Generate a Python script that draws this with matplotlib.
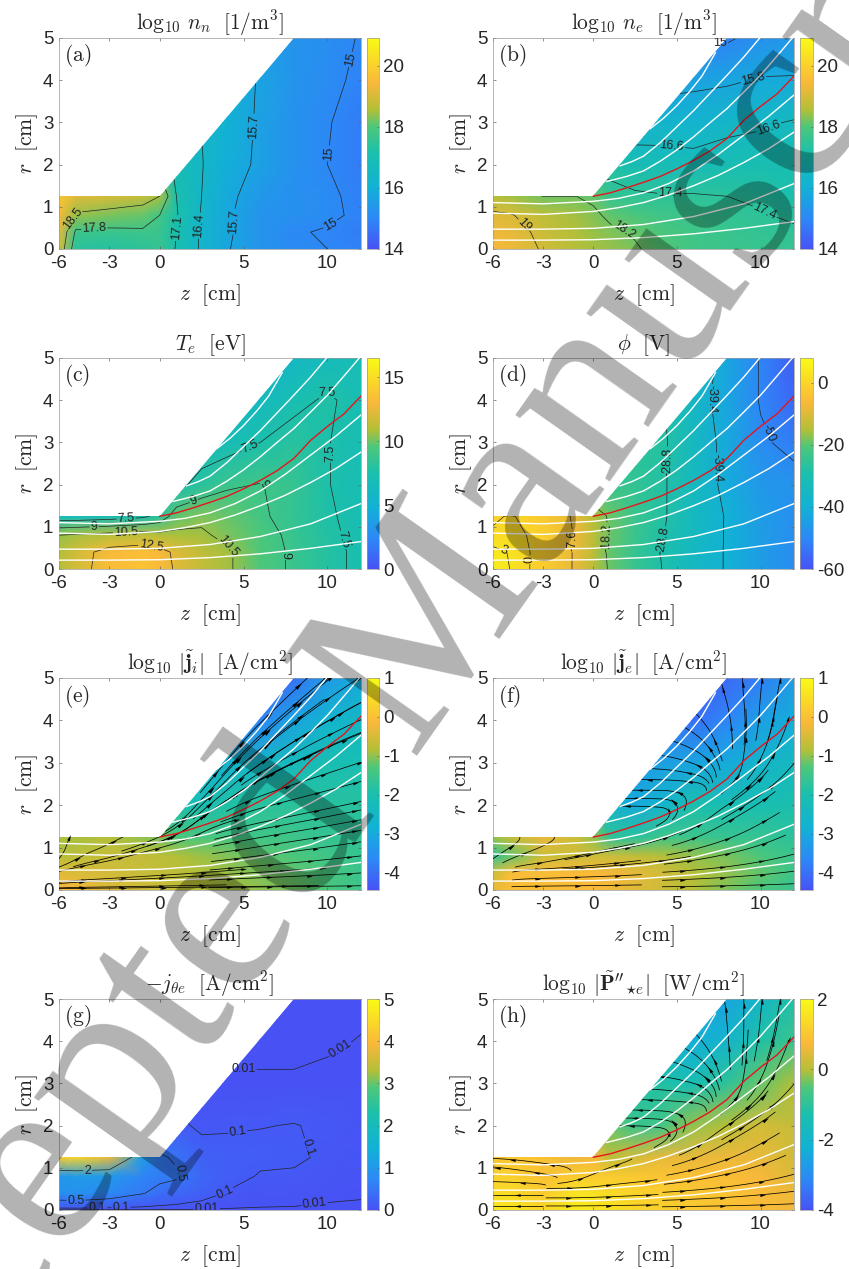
import numpy as np
import matplotlib
matplotlib.use('Agg')
from matplotlib import pyplot as plt
from matplotlib.colors import LinearSegmentedColormap
from matplotlib.patches import Polygon, FancyArrowPatch
from matplotlib.path import Path

plt.rcParams['font.family'] = ['Liberation Sans', 'DejaVu Sans']
plt.rcParams['mathtext.fontset'] = 'cm'
plt.rcParams['axes.unicode_minus'] = False

W, H = 849, 1269

#========================================
#           Data
#========================================
z_grid = [-6, -5, -3, -1, 0, 1, 2.5, 4, 6, 8, 10, 12]
r_grid = [0, 0.4, 0.8, 1.25, 2, 3, 4, 5]

nn_vals = [
    [19.0, 17.4, 17.3, 17.45, 17.6, 17.05, 16.3, 15.75, 15.3, 15.1, 15.0, 14.9],
    [19.2, 17.7, 17.65, 17.7, 17.65, 17.1, 16.3, 15.8, 15.3, 15.05, 14.95, 14.8],
    [19.4, 18.4, 18.25, 18.15, 17.8, 17.15, 16.35, 15.8, 15.3, 15.2, 15.1, 14.9],
    [19.8, 19.1, 19.0, 18.8, 18.5, 17.1, 16.4, 15.85, 15.4, 15.2, 15.1, 14.85],
    [17.5, 17.5, 17.5, 17.5, 17.5, 16.95, 16.43, 15.95, 15.6, 15.25, 15.0, 14.8],
    [16.4, 16.4, 16.4, 16.4, 16.4, 16.4, 16.4, 16.1, 15.6, 15.25, 15.03, 14.8],
    [16.0, 16.0, 16.0, 16.0, 16.0, 16.0, 16.0, 16.0, 15.65, 15.3, 15.12, 14.9],
    [15.6, 15.6, 15.6, 15.6, 15.6, 15.6, 15.6, 15.6, 15.6, 15.3, 15.15, 14.97],
]
ne_vals = [
    [19.4, 19.3, 18.95, 18.6, 18.5, 18.4, 18.25, 18.05, 17.8, 17.7, 17.65, 17.6],
    [19.3, 19.25, 18.85, 18.55, 18.4, 18.3, 18.15, 17.95, 17.75, 17.65, 17.55, 17.5],
    [19.1, 19.05, 18.7, 18.45, 18.3, 18.1, 17.95, 17.8, 17.65, 17.55, 17.45, 17.3],
    [18.6, 18.5, 18.2, 18.2, 18.1, 17.6, 17.5, 17.45, 17.45, 17.4, 17.3, 17.1],
    [17.2, 17.2, 17.2, 17.2, 17.2, 17.2, 16.95, 16.85, 16.85, 16.95, 17.0, 17.0],
    [16.2, 16.2, 16.2, 16.2, 16.2, 16.2, 16.2, 16.3, 16.2, 16.4, 16.5, 16.65],
    [15.5, 15.5, 15.5, 15.5, 15.5, 15.5, 15.5, 15.5, 15.65, 15.7, 15.85, 15.85],
    [14.9, 14.9, 14.9, 14.9, 14.9, 14.9, 14.9, 14.9, 14.9, 14.9, 15.25, 15.4],
]
te_vals = [
    [11.0, 11.8, 13.3, 13.6, 13.2, 12.3, 11.4, 10.7, 9.6, 8.8, 7.9, 7.2],
    [10.9, 11.8, 13.1, 13.4, 13.0, 12.2, 11.3, 10.7, 9.6, 8.8, 7.9, 7.2],
    [10.5, 10.7, 11.0, 11.3, 11.0, 10.8, 10.7, 10.2, 9.5, 8.7, 7.8, 7.1],
    [6.6, 6.6, 6.8, 7.2, 8.0, 9.8, 10.2, 9.9, 9.2, 8.5, 7.7, 7.0],
    [7.0, 7.0, 7.0, 7.0, 7.0, 7.0, 8.1, 8.8, 9.05, 8.6, 7.55, 7.0],
    [6.5, 6.5, 6.5, 6.5, 6.5, 6.5, 6.5, 6.8, 7.5, 8.1, 7.55, 7.0],
    [6.0, 6.0, 6.0, 6.0, 6.0, 6.0, 6.0, 6.0, 6.3, 7.1, 7.7, 7.0],
    [5.5, 5.5, 5.5, 5.5, 5.5, 5.5, 5.5, 5.5, 5.5, 6.0, 6.6, 6.9],
]
phi_vals = [
    [5, 3, -2, -8.5, -14, -19, -24, -28.5, -35, -40, -45, -49],
    [4, 2.8, -1.8, -8.5, -14, -19.5, -24.5, -28.8, -35, -40, -45, -49],
    [1, 1.5, -1.5, -8.3, -14, -19, -24, -28, -34.5, -40, -45, -48.5],
    [-1, 0.5, -2.5, -8.8, -15, -19, -24, -27.5, -34, -40, -45, -48.5],
    [-24, -24, -24, -24, -24, -24, -25, -27.5, -34, -41.5, -46, -47.5],
    [-27, -27, -27, -27, -27, -27, -27, -27.3, -34, -42, -49, -52],
    [-28, -28, -28, -28, -28, -28, -28, -28, -35.5, -43, -50.5, -56],
    [-33, -33, -33, -33, -33, -33, -33, -33, -33, -43, -50.5, -58],
]
ji_vals = [
    [-0.1, -0.2, -0.45, -0.55, -0.6, -0.7, -0.8, -0.9, -1.0, -1.15, -1.3, -1.5],
    [-0.4, -0.45, -0.55, -0.65, -0.7, -0.75, -0.85, -0.95, -1.1, -1.2, -1.35, -1.55],
    [-0.8, -0.75, -0.65, -0.7, -0.75, -0.85, -0.95, -1.05, -1.2, -1.3, -1.45, -1.6],
    [-0.9, -0.9, -0.85, -1.0, -1.1, -1.3, -1.35, -1.4, -1.45, -1.5, -1.6, -1.7],
    [-2.0, -2.0, -2.0, -2.0, -2.0, -2.0, -2.1, -1.9, -1.75, -1.75, -1.8, -1.8],
    [-2.8, -2.8, -2.8, -2.8, -2.8, -2.8, -2.8, -2.7, -2.5, -2.3, -2.1, -2.1],
    [-3.8, -3.8, -3.8, -3.8, -3.8, -3.8, -3.8, -3.8, -3.7, -3.1, -2.7, -2.5],
    [-4.2, -4.2, -4.2, -4.2, -4.2, -4.2, -4.2, -4.2, -4.2, -4.0, -3.3, -3.0],
]
je_vals = [
    [-0.3, -0.05, -0.02, -0.1, -0.15, -0.25, -0.4, -0.6, -0.85, -1.1, -1.3, -1.6],
    [-0.6, -0.05, -0.05, -0.1, -0.1, -0.2, -0.35, -0.55, -0.8, -1.0, -1.2, -1.5],
    [-1.7, -1.2, -0.6, -0.6, -0.6, -0.6, -0.7, -0.8, -1.0, -1.1, -1.3, -1.55],
    [-1.0, -0.7, -0.3, -0.6, -1.0, -1.7, -1.8, -1.5, -1.5, -1.6, -1.6, -1.75],
    [-2.6, -2.6, -2.6, -2.6, -2.6, -2.6, -3.0, -2.7, -2.0, -2.1, -2.1, -2.0],
    [-3.3, -3.3, -3.3, -3.3, -3.3, -3.3, -3.3, -3.2, -3.1, -3.0, -2.6, -2.4],
    [-3.9, -3.9, -3.9, -3.9, -3.9, -3.9, -3.9, -3.9, -4.0, -3.7, -3.2, -2.9],
    [-4.3, -4.3, -4.3, -4.3, -4.3, -4.3, -4.3, -4.3, -4.3, -4.1, -3.8, -3.3],
]
jth_vals = [
    [.002, .002, .002, .002, .002, .002, .002, .002, .002, .002, .002, .002],
    [.85, .9, .75, .52, .38, .3, .18, .09, .05, .04, .02, .015],
    [1.0, 1.05, 1.05, .7, .6, .55, .28, .17, .085, .08, .05, .03],
    [4.2, 4.4, 3.8, 1.1, .55, .45, .2, .16, .14, .125, .075, .05],
    [.15, .15, .15, .15, .15, .15, .06, .08, .095, .105, .08, .05],
    [.012, .012, .012, .012, .012, .012, .012, .012, .012, .0115, .015, .018],
    [.006, .006, .006, .006, .006, .006, .006, .006, .006, .007, .007, .011],
    [.003, .003, .003, .003, .003, .003, .003, .003, .003, .003, .004, .005],
]
pe_vals = [
    [1.6, 1.6, 1.3, 1.7, 1.6, 1.5, 1.3, 1.2, 1.05, .9, .8, .65],
    [1.4, 1.4, 1.1, 1.6, 1.5, 1.4, 1.25, 1.15, 1.0, .95, .8, .6],
    [1.2, 1.2, .9, 1.1, 1.1, 1.1, 1.05, .95, .9, .85, .7, .45],
    [1.0, 1.05, .9, .6, .7, .1, .3, .5, .55, .6, .55, .3],
    [-.4, -.4, -.4, -.4, -.4, -.4, -.8, -.7, -.2, 0, .3, .15],
    [-1.2, -1.2, -1.2, -1.2, -1.2, -1.2, -1.2, -1.2, -1.4, -1.0, -.4, -.05],
    [-2.1, -2.1, -2.1, -2.1, -2.1, -2.1, -2.1, -2.1, -2.3, -2.0, -1.2, -.8],
    [-2.7, -2.7, -2.7, -2.7, -2.7, -2.7, -2.7, -2.7, -2.7, -2.5, -1.9, -1.2],
]

# magnetic field lines (white) and the channel-edge line (red)
field_lines = [
    ([-6, -3, 0, 3, 6, 9, 12], [.21, .21, .22, .27, .36, .49, .65]),
    ([-6, -3, 0, 3, 6, 9, 12], [.47, .47, .49, .58, .77, 1.07, 1.55]),
    ([-6, -3, 0, 1.5, 3, 4.5, 6, 7.5, 9, 10.5, 12], [.85, .82, .89, .98, 1.1, 1.28, 1.5, 1.75, 2.05, 2.38, 2.77]),
    ([-6, -3, 0, 1.5, 3, 4.5, 6, 7.5, 9, 10.5, 12], [1.1, 1.07, 1.13, 1.2, 1.33, 1.55, 1.85, 2.25, 2.7, 3.15, 3.65]),
    ([.8, 2, 3, 4, 5, 6, 7, 8, 9, 10, 11, 11.9], [1.6, 1.72, 1.85, 2.08, 2.35, 2.66, 3.0, 3.33, 3.72, 4.12, 4.58, 5]),
    ([1.6, 2.3, 3, 4, 5, 6, 7, 8, 9, 9.95], [1.97, 2.07, 2.2, 2.52, 2.9, 3.28, 3.7, 4.12, 4.55, 5]),
    ([3.4, 4.2, 5, 5.8, 6.5, 7.3], [2.85, 3.1, 3.4, 3.75, 4.1, 4.65]),
]
red_z = [0, 1, 2, 3, 4, 5, 6, 7, 8, 9, 10, 11, 12]
red_r = [1.25, 1.33, 1.45, 1.58, 1.72, 1.9, 2.1, 2.33, 2.62, 3.05, 3.38, 3.68, 4.1]

# stream directions on screen, degrees (0 right, 90 up, 180 left)
dir_z = [-6, -4, -2, 0, 2, 4, 6, 8, 10, 12]
dir_r = [0, .5, 1, 1.5, 2, 2.5, 3, 3.5, 4, 4.5, 5]

ji_dir = [
    [0, 0, 0, 0, 0, 0, 0, 0, 0, 0],
    [15, 6, 6, 5, 5, 5, 4, 4, 4, 4],
    [80, 25, 20, 15, 12, 9, 9, 8, 8, 8],
    [85, 40, 35, 35, 35, 15, 11, 10, 10, 10],
    [85, 60, 50, 50, 50, 30, 16, 13, 12, 12],
    [85, 60, 55, 55, 55, 45, 25, 18, 16, 15],
    [85, 60, 55, 55, 55, 50, 35, 25, 20, 18],
    [85, 60, 60, 60, 60, 55, 42, 32, 25, 20],
    [85, 60, 60, 60, 60, 58, 45, 38, 30, 25],
    [85, 60, 60, 60, 60, 60, 48, 42, 35, 28],
    [85, 60, 60, 60, 60, 60, 50, 45, 40, 32],
]
je_dir = [
    [0, 0, 0, 0, 0, 0, 0, 0, 0, 0],
    [30, 4, 3, 3, 4, 4, 5, 6, 7, 8],
    [40, 25, 20, 15, 10, 12, 15, 15, 17, 18],
    [180, 180, 180, 180, 180, 25, 30, 28, 28, 28],
    [180, 180, 180, 180, 180, 178, 60, 32, 32, 35],
    [180, 180, 180, 180, 180, 180, 175, 45, 40, 40],
    [180, 180, 180, 180, 180, 175, 160, 100, 60, 50],
    [180, 180, 180, 180, 180, 170, 150, 95, 75, 60],
    [180, 180, 180, 180, 180, 170, 140, 100, 85, 70],
    [180, 180, 180, 180, 180, 170, 130, 105, 85, 75],
    [180, 180, 180, 180, 180, 170, 130, 100, 85, 75],
]
pe_dir = [
    [180, 180, 0, 0, 0, 0, 0, 0, 0, 0],
    [180, 180, 0, 3, 4, 4, 5, 6, 7, 8],
    [175, 170, 170, 30, 10, 12, 15, 15, 17, 18],
    [180, 180, 180, 180, 175, 25, 30, 28, 28, 28],
    [180, 180, 180, 180, 180, 175, 60, 32, 32, 35],
    [180, 180, 180, 180, 180, 178, 175, 45, 40, 40],
    [180, 180, 180, 180, 180, 175, 165, 95, 60, 50],
    [180, 180, 180, 180, 180, 170, 150, 95, 75, 60],
    [180, 180, 180, 180, 180, 170, 140, 95, 80, 70],
    [180, 180, 180, 180, 180, 170, 130, 95, 85, 75],
    [180, 180, 180, 180, 180, 170, 130, 95, 85, 75],
]

# where the streamlines are seeded
ji_seeds = [(11.9, .1), (11.9, .4), (11.9, .8), (11.9, 1.13), (11.9, 1.4), (11.9, 1.65), (11.9, 1.88), (11.9, 2.08),
            (11.9, 2.55), (11.9, 3.0), (11.9, 3.7), (11.9, 4.0), (11.9, 4.4), (11.5, 4.9), (9, 4.7), (7.2, 4.4),
            (2.5, 1.7), (-5, .06), (-4, .25), (-3.5, .65), (-3.5, 1.0), (-5.6, 1.0), (0.5, .06), (1, .3),
            (4, 2.6), (5.5, 3.4), (8, 3.5), (6, 2.6)]
je_seeds = [(8, .1), (8, .3), (8, .55), (8, .85), (8, 1.2), (8, 1.6), (8, 2.0), (10.5, 2.4), (10.5, 3.0), (10.5, 3.6),
            (-1, .1), (-1, .3), (-1, .55), (-1, .8), (2, .6), (2, 1.0),
            (4, 1.95), (4, 2.15), (4, 2.35), (4, 2.6), (4, 2.85), (5, 3.1), (5.5, 3.4), (6, 3.7), (6.5, 4.0),
            (8, 4.4), (9, 4.5), (10, 4.6), (11, 4.6), (9, 3.2), (-4.5, 1.15), (-2.5, 1.15)]
pe_seeds = [(8, .1), (8, .3), (8, .55), (8, .85), (8, 1.2), (8, 1.6), (8, 2.0), (10.5, 2.4), (10.5, 3.0), (10.5, 3.6),
            (-4.5, .1), (-4.5, .35), (-4.5, .65), (-4.5, .95), (-4.5, 1.18), (0, .1), (0, .3), (0, .55), (0, .85),
            (4, 1.95), (4, 2.15), (4, 2.35), (4, 2.6), (4, 2.85), (5, 3.1), (5.5, 3.4), (6, 3.7), (6.5, 4.0),
            (8, 4.4), (9, 4.5), (10, 4.6), (11, 4.6), (9, 3.2)]

titles = [r'$\log_{10}\,n_n\ \ [1/\mathrm{m}^3]$', r'$\log_{10}\,n_e\ \ [1/\mathrm{m}^3]$',
          r'$T_e\ \ [\mathrm{eV}]$', r'$\phi\ \ [\mathrm{V}]$',
          r'$\log_{10}\,|\tilde{\mathbf{j}}_i|\ \ [\mathrm{A}/\mathrm{cm}^2]$',
          r'$\log_{10}\,|\tilde{\mathbf{j}}_e|\ \ [\mathrm{A}/\mathrm{cm}^2]$',
          r"$-j_{\theta e}\ \ [\mathrm{A}/\mathrm{cm}^2]$",
          r"$\log_{10}\,|\tilde{\mathbf{P}}''_{\star e}|\ \ [\mathrm{W}/\mathrm{cm}^2]$"]
letters = ['a', 'b', 'c', 'd', 'e', 'f', 'g', 'h']
fields = [nn_vals, ne_vals, te_vals, phi_vals, ji_vals, je_vals, jth_vals, pe_vals]
ranges = [(14, 20.9), (14, 20.9), (0, 16.5), (-60, 8), (-4.45, 1), (-4.45, 1), (0, 5), (-4, 2)]
cticks = [[14, 16, 18, 20], [14, 16, 18, 20], [0, 5, 10, 15], [-60, -40, -20, 0],
          [-4, -3, -2, -1, 0, 1], [-4, -3, -2, -1, 0, 1], [0, 1, 2, 3, 4, 5], [-4, -2, 0, 2]]

contour_levels = {
    0: [15, 15.7, 16.4, 17.1, 17.8, 18.5],
    1: [15, 15.8, 16.6, 17.4, 18.2, 19],
    2: [7.5, 9, 10.5, 12.5],
    3: [-50, -39.4, -28.8, -18.2, -7.6, 0, 3],
    6: [0.01, 0.1, 0.5, 2],
}
label_spots = {
    0: [(11.3, 4.5), (9.94, 2.27), (10.4, .45), (5.4, 2.9), (4.5, .65), (2.4, .55), (1.0, .5), (-3.9, .5), (-5.3, .75)],
    1: [(7.6, 4.6), (9.6, 4.0), (4.7, 2.45), (10.5, 2.87), (4.6, 1.5), (10.65, 1.17), (2, .6), (-4.2, .55)],
    2: [(9.7, 4.33), (5.6, 2.67), (-2, 1.2), (10.2, 2.75), (11, .7), (-3.9, .95), (2.1, 1.54), (6.65, 2.13),
        (7.45, .32), (-2, .87), (4.1, .54), (-.5, .54)],
    3: [(7.07, 2.4), (6.5, 4.05), (4.3, 2.55), (3.8, .7), (.8, .75), (-1.2, .67), (10.35, 3.2), (-3.75, .22), (-5.5, .3)],
    6: [(5, 2.95), (10.85, 3.75), (9.25, .09), (2.8, .03), (-3.7, .03), (4.7, 1.7), (9.35, 1.55), (4, .35),
        (-2.3, .05), (-5, .2), (1, .85), (-4.3, .97)],
}
stream_panels = {4: (ji_dir, ji_seeds, 1.0), 5: (je_dir, je_seeds, .45), 7: (pe_dir, pe_seeds, .45)}

wall_z = [-6, 12, 12, 8, 0, -6]
wall_r = [0, 0, 5, 5, 1.25, 1.25]

# parula, without its darkest start and stretched to match the colorbars
parula = LinearSegmentedColormap.from_list('parula', [
    (0.00, (.2810, .3228, .9579)), (0.14, (.1786, .5289, .9682)), (0.29, (.0689, .6948, .8394)),
    (0.45, (.1000, .7500, .6800)), (0.58, (.3000, .7800, .4800)), (0.66, (.7000, .7500, .2200)),
    (0.79, (.9800, .7200, .2300)), (1.00, (.9769, .9839, .0805))])


def px_axes(fig, x0, y0, x1, y1):
    # rectangle given in picture pixels, y going down
    return fig.add_axes([x0 / W, 1 - y1 / H, (x1 - x0) / W, (y1 - y0) / H])


def add_streams(ax, dirs, seeds, reach, clip):
    a = np.radians(np.array(dirs, dtype=float))
    # data units per screen pixel are not the same on both axes
    u = np.cos(a) / 16.8
    v = np.sin(a) / 42.2
    st = ax.streamplot(np.array(dir_z, dtype=float), np.array(dir_r, dtype=float), u, v,
                       start_points=np.array(seeds), color='k', linewidth=0.55, arrowstyle='-',
                       broken_streamlines=False, maxlength=reach, density=2, zorder=3)
    st.lines.set_clip_path(clip)
    # streamplot puts one arrow on a line, the reference has them all along it
    for p in list(ax.patches):
        if isinstance(p, FancyArrowPatch):
            p.remove()
    inside = Path(np.column_stack([wall_z, wall_r]))
    for line in st.lines.get_segments():
        pts = ax.transData.transform(line)
        gone = 18.0
        for k in range(len(pts) - 1):
            d = pts[k + 1] - pts[k]
            step = np.hypot(*d)
            gone += step
            if gone < 38 or step == 0:
                continue
            gone = 0.0
            if not inside.contains_point(line[k + 1]):
                continue
            c, s = d / step
            head = [(1.6 * c, 1.6 * s), (-c - .62 * s, -s + .62 * c), (-c + .62 * s, -s - .62 * c)]
            ax.plot(line[k + 1, 0], line[k + 1, 1], marker=head, ms=5, color='k', mew=0, ls='', zorder=4)


fig = plt.figure(figsize=(W / 100, H / 100), dpi=100)
cols = [(59, 361, 367, 379), (493, 794, 800, 813)]
rows = [(38, 249), (358, 569), (678, 890), (999, 1210)]

for i in range(8):
    x0, x1, c0, c1 = cols[i % 2]
    y0, y1 = rows[i // 2]
    ax = px_axes(fig, x0, y0, x1, y1)
    clip = Polygon(np.column_stack([wall_z, wall_r]), transform=ax.transData, fc='none', ec='none')
    ax.add_patch(clip)

    vals = np.array(fields[i], dtype=float)
    mesh = ax.pcolormesh(z_grid, r_grid, vals, shading='gouraud', cmap=parula,
                         vmin=ranges[i][0], vmax=ranges[i][1], zorder=1)
    mesh.set_clip_path(clip)
    ax.set_xlim(-6, 12)
    ax.set_ylim(0, 5)

    if i in contour_levels:
        cs = ax.contour(z_grid, r_grid, vals, levels=contour_levels[i], colors='#222222',
                        linewidths=0.5, linestyles='solid', zorder=2)
        cs.set_clip_path(clip)
        ax.clabel(cs, fmt='%g', fontsize=9, inline=True, inline_spacing=1, manual=label_spots[i])

    if i in stream_panels:
        add_streams(ax, stream_panels[i][0], stream_panels[i][1], stream_panels[i][2], clip)
        ax.set_xlim(-6, 12)
        ax.set_ylim(0, 5)

    # panels a and g have no field lines in the reference
    if i not in (0, 6):
        for lz, lr in field_lines:
            ax.plot(lz, lr, color='w', lw=1.0, zorder=5)
        ax.plot(red_z, red_r, color='#e8141c', lw=1.0, zorder=6)

    ax.set_xticks([-6, -3, 0, 5, 10])
    ax.set_yticks([0, 1, 2, 3, 4, 5])
    ax.tick_params(direction='in', length=2, width=0.5, color='#666666', labelsize=13.5, top=True, right=True,
                   labelcolor='#262626', pad=4)
    for sp in ax.spines.values():
        sp.set_linewidth(0.5)
        sp.set_color('#999999')
    ax.set_xlabel(r'$z\ \ [\mathrm{cm}]$', fontsize=15.5, color='#262626', labelpad=8)
    ax.set_ylabel(r'$r\ \ [\mathrm{cm}]$', fontsize=15.5, color='#262626', labelpad=2)
    ax.set_title(titles[i], fontsize=15.5, color='#262626', pad=6)
    ax.text(0.016, 0.915, r'$\mathrm{(%s)}$' % letters[i], transform=ax.transAxes, fontsize=15.5,
            color='#262626', ha='left', va='center', zorder=7)

    cax = px_axes(fig, c0, y0, c1, y1)
    cb = fig.colorbar(mesh, cax=cax)
    cb.set_ticks(cticks[i])
    cb.ax.tick_params(direction='in', length=1.5, width=0.5, color='#666666', labelsize=13.5,
                      labelcolor='#262626', pad=3)
    cb.outline.set_linewidth(0.5)
    cb.outline.set_edgecolor('#999999')

# the journal's watermark over everything
fig.text(402 / W, 1 - 672 / H, 'Accepted Manuscript', fontsize=182, family='Liberation Serif', color='k', alpha=0.3,
         rotation=54.8, rotation_mode='anchor', ha='center', va='center', zorder=20)

fig.savefig('out.png', dpi=100)
